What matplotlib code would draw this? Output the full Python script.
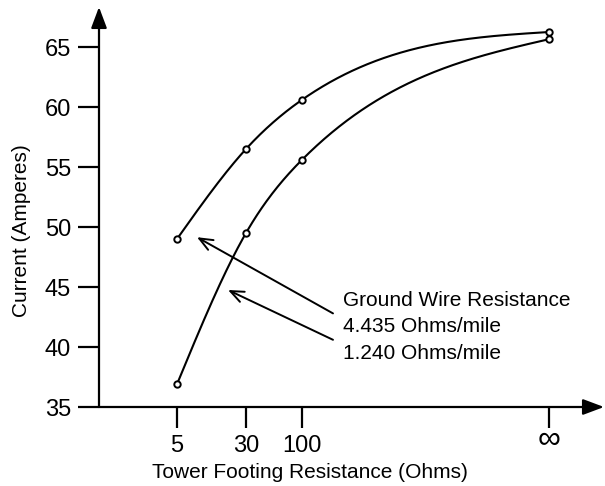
import numpy as np
import matplotlib
matplotlib.use("Agg")
import matplotlib.pyplot as plt
from matplotlib.transforms import ScaledTranslation

plt.rcParams['font.family'] = ['Liberation Sans', 'DejaVu Sans']

# Data
resistance_labels = ['5', '30', '100', '\u221e']
current_4435 = [49.0, 56.5, 60.6, 66.25]   # ground wire 4.435 Ohms/mile
current_1240 = [36.9, 49.5, 55.6, 65.65]   # ground wire 1.240 Ohms/mile
y_ticks = [35, 40, 45, 50, 55, 60, 65]

# where each resistance category sits along the (non-linear) x axis
tick_x = np.array([78, 147, 203, 450])


def natural_spline(x, y, xs):
    # natural cubic spline through the points, only used to draw a smooth curve
    x = np.asarray(x, float)
    y = np.asarray(y, float)
    n = len(x)
    h = np.diff(x)
    A = np.zeros((n, n))
    b = np.zeros(n)
    A[0, 0] = A[-1, -1] = 1
    for i in range(1, n - 1):
        A[i, i - 1] = h[i - 1]
        A[i, i] = 2 * (h[i - 1] + h[i])
        A[i, i + 1] = h[i]
        b[i] = 6 * ((y[i + 1] - y[i]) / h[i] - (y[i] - y[i - 1]) / h[i - 1])
    M = np.linalg.solve(A, b)
    ys = np.empty_like(xs)
    for j, xv in enumerate(xs):
        k = int(np.clip(np.searchsorted(x, xv) - 1, 0, n - 2))
        t0 = x[k + 1] - xv
        t1 = xv - x[k]
        ys[j] = (M[k] * t0**3 / (6 * h[k]) + M[k + 1] * t1**3 / (6 * h[k])
                 + (y[k] / h[k] - M[k] * h[k] / 6) * t0
                 + (y[k + 1] / h[k] - M[k + 1] * h[k] / 6) * t1)
    return ys


fig = plt.figure(figsize=(6.05, 4.86), dpi=100)
ax = fig.add_axes([99 / 605, 79 / 486, 505 / 605, 400 / 486])
ax.set_xlim(0, 505)
ax.set_ylim(35, 35 + 400 / 12)

xs = np.linspace(tick_x[0], tick_x[-1], 400)
for vals in (current_4435, current_1240):
    ax.plot(xs, natural_spline(tick_x, vals, xs), color='black', lw=1.5, zorder=3)
    ax.plot(tick_x, vals, 'o', ms=4.6, mfc='white', mec='black', mew=1.4, zorder=4)

# axes drawn as arrows
for s in ax.spines.values():
    s.set_visible(False)
ax.annotate('', xy=(1.0, 0), xytext=(0, 0), xycoords='axes fraction',
            arrowprops=dict(arrowstyle='-|>,head_length=0.8,head_width=0.3',
                            color='black', lw=1.6, mutation_scale=16,
                            shrinkA=0, shrinkB=0))
ax.annotate('', xy=(0, 1.0), xytext=(0, 0), xycoords='axes fraction',
            arrowprops=dict(arrowstyle='-|>,head_length=0.8,head_width=0.3',
                            color='black', lw=1.6, mutation_scale=16,
                            shrinkA=0, shrinkB=0))

ax.set_xticks(tick_x)
ax.set_xticklabels(resistance_labels)
ax.set_yticks(y_ticks)
ax.tick_params(axis='both', direction='out', length=15, width=1.6,
               labelsize=17, color='black')
ax.tick_params(axis='x', pad=5)
ax.tick_params(axis='y', pad=5)
# the infinity sign sits a bit higher and is drawn larger
inf_label = ax.get_xticklabels()[-1]
inf_label.set_fontsize(23)
inf_label.set_transform(inf_label.get_transform()
                        + ScaledTranslation(0, 10 / 100, fig.dpi_scale_trans))

ax.set_xlabel('Tower Footing Resistance (Ohms)', fontsize=15)
ax.xaxis.set_label_coords(211 / 505, -56 / 400)
ax.set_ylabel('Current (Amperes)', fontsize=15)
ax.yaxis.set_label_coords(-68 / 505, (407 - 231) / 400)

# legend text with pointer arrows
ax.text(244, 43.9, 'Ground Wire Resistance', fontsize=15, va='center', ha='left')
ax.text(244, 41.7, '4.435 Ohms/mile', fontsize=15, va='center', ha='left')
ax.text(244, 39.5, '1.240 Ohms/mile', fontsize=15, va='center', ha='left')
ax.annotate('', xy=(98, 49.15), xytext=(234, 42.8),
            arrowprops=dict(arrowstyle='->,head_length=0.6,head_width=0.25',
                            color='black', lw=1.4, mutation_scale=16,
                            shrinkA=0, shrinkB=0))
ax.annotate('', xy=(129, 44.75), xytext=(234, 40.6),
            arrowprops=dict(arrowstyle='->,head_length=0.6,head_width=0.25',
                            color='black', lw=1.4, mutation_scale=16,
                            shrinkA=0, shrinkB=0))

fig.savefig('out.png', dpi=100)
